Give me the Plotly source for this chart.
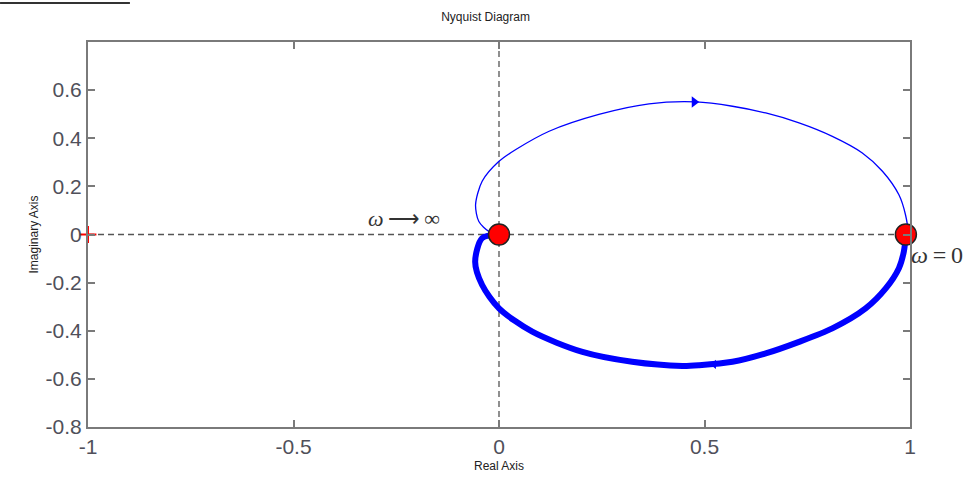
import plotly.graph_objects as go

# Lower (positive frequency) branch: from w=0 at (0.99,0) to w->inf at (0,0)
pos_re = [0.990, 0.985, 0.973, 0.941, 0.892, 0.811, 0.730, 0.649, 0.568, 0.487, 0.446, 0.324, 0.203, 0.081, 0.0, -0.041, -0.058, -0.041, 0.0]
pos_im = [0.0, -0.071, -0.140, -0.224, -0.307, -0.390, -0.446, -0.494, -0.529, -0.543, -0.546, -0.529, -0.488, -0.404, -0.307, -0.210, -0.113, -0.015, 0.0]

# Upper (negative frequency) branch: from (0,0) to (0.99,0)
neg_re = [0.0, -0.024, -0.049, -0.057, -0.041, 0.0, 0.041, 0.122, 0.243, 0.365, 0.479, 0.568, 0.649, 0.730, 0.811, 0.884, 0.933, 0.973, 0.989, 0.994, 0.990]
neg_im = [0.0, 0.012, 0.054, 0.124, 0.221, 0.304, 0.353, 0.429, 0.499, 0.543, 0.551, 0.533, 0.505, 0.464, 0.408, 0.339, 0.263, 0.165, 0.082, 0.020, 0.0]

x_ticks = [-1, -0.5, 0, 0.5, 1]
y_ticks = [-0.8, -0.6, -0.4, -0.2, 0, 0.2, 0.4, 0.6]
y_tick_text = ["-0.8", "-0.6", "-0.4", "-0.2", "0", "0.2", "0.4", "0.6"]

endpoints_re = [0.0, 0.99]
endpoints_im = [0.0, 0.0]

BLUE = "#0000ff"
GRID = "#555555"
AX = "#7a7a7a"

fig = go.Figure()

# dashed axes through origin
fig.add_trace(go.Scatter(x=[-1, 1], y=[0, 0], mode="lines",
                         line=dict(color=GRID, width=1.3, dash="6px,4px"),
                         hoverinfo="skip", showlegend=False))
fig.add_trace(go.Scatter(x=[0, 0], y=[-0.8, 0.8], mode="lines",
                         line=dict(color=GRID, width=1.3, dash="6px,4px"),
                         hoverinfo="skip", showlegend=False))

fig.add_trace(go.Scatter(x=neg_re, y=neg_im, mode="lines", line_shape="spline",
                         line=dict(color=BLUE, width=1.3, smoothing=0.8), showlegend=False))
fig.add_trace(go.Scatter(x=pos_re, y=pos_im, mode="lines", line_shape="spline",
                         line=dict(color=BLUE, width=6, smoothing=0.8), showlegend=False))

# direction arrows
fig.add_trace(go.Scatter(x=[0.475], y=[0.551], mode="markers",
                         marker=dict(symbol="triangle-right", size=10, color=BLUE),
                         showlegend=False))
fig.add_trace(go.Scatter(x=[0.523], y=[-0.54], mode="markers",
                         marker=dict(symbol="triangle-left", size=8, color=BLUE),
                         showlegend=False))

# critical point
fig.add_trace(go.Scatter(x=[-1], y=[0], mode="markers",
                         marker=dict(symbol="cross-thin", size=12, line=dict(color="red", width=2)),
                         showlegend=False, cliponaxis=False))

# endpoints
fig.add_trace(go.Scatter(x=endpoints_re, y=endpoints_im, mode="markers",
                         marker=dict(size=21, color="#ff0000", line=dict(color="#222222", width=1.5)),
                         showlegend=False, cliponaxis=False))

fig.add_annotation(x=-0.231, y=0.068, text="<i>ω</i>\u2009⟶\u2009∞", showarrow=False,
                   font=dict(family="Liberation Serif", size=22, color="#333333"))
fig.add_annotation(x=0.998, y=-0.085, text="<i>ω</i>\u2009=\u20090", showarrow=False, xanchor="left",
                   font=dict(family="Liberation Serif", size=24, color="#333333"))

# cut-off header underline at top-left
fig.add_shape(type="line", xref="paper", yref="paper", x0=-0.107, x1=0.051, y0=1.101, y1=1.101,
              line=dict(color="#333333", width=2))

fig.update_layout(
    width=977, height=483,
    margin=dict(l=88, r=67, t=42, b=56),
    paper_bgcolor="white", plot_bgcolor="white",
    font=dict(family="Liberation Sans, Arial", color="#444444"),
    title=dict(text="Nyquist Diagram", x=0.497, xanchor="center", y=0.965, yanchor="middle",
               font=dict(size=12, color="#222222")),
    showlegend=False,
)
fig.update_xaxes(range=[-1, 1], tickvals=x_ticks, ticktext=[str(v) for v in x_ticks],
                 ticks="inside", ticklen=7, tickcolor=AX, tickwidth=1.5,
                 showline=True, linecolor=AX, linewidth=2, mirror="ticks",
                 showgrid=False, zeroline=False,
                 tickfont=dict(size=21, color="#50505a"),
                 title=dict(text="Real Axis", font=dict(size=12, color="#222222"), standoff=4))
fig.update_yaxes(range=[-0.8, 0.8], tickvals=y_ticks, ticktext=y_tick_text,
                 ticks="inside", ticklen=7, tickcolor=AX, tickwidth=1.5,
                 showline=True, linecolor=AX, linewidth=2, mirror="ticks",
                 showgrid=False, zeroline=False,
                 tickfont=dict(size=21, color="#50505a"),
                 title=dict(text="Imaginary Axis", font=dict(size=12, color="#222222"), standoff=4))

fig.write_html("out.html")
